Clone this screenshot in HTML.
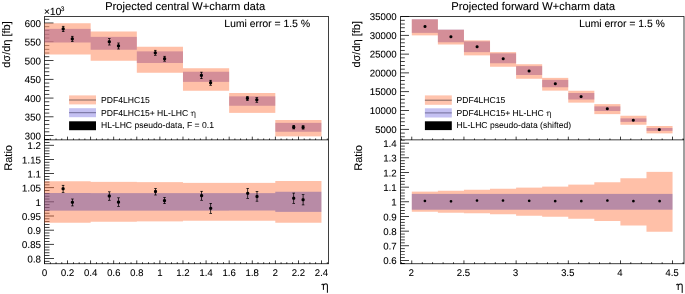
<!DOCTYPE html>
<html><head><meta charset="utf-8"><style>
html,body{margin:0;padding:0;background:#fff;overflow:hidden;width:685px;height:294px}
#wrap{position:absolute;left:0;top:0;width:1370px;height:588px;transform:scale(0.5);transform-origin:0 0;will-change:transform}
svg{display:block;text-rendering:geometricPrecision}
</style></head><body>
<div id="wrap">
<svg width="1370" height="588" viewBox="0 0 685 294" font-family='"Liberation Sans", sans-serif'>
<rect width="685" height="294" fill="#fff"/>
<path d="M44.5,16.5H328.5V263.7H44.5Z" fill="none" stroke="#000" stroke-width="0.75"/>
<line x1="44.50" y1="139.85" x2="328.50" y2="139.85" stroke="#000" stroke-width="0.75"/>
<path d="M400.5,16.5H684.0V263.7H400.5Z" fill="none" stroke="#000" stroke-width="0.75"/>
<line x1="400.50" y1="139.85" x2="684.00" y2="139.85" stroke="#000" stroke-width="0.75"/>
<line x1="44.50" y1="139.34" x2="49.30" y2="139.34" stroke="#000" stroke-width="0.75"/>
<line x1="44.50" y1="135.59" x2="53.50" y2="135.59" stroke="#000" stroke-width="0.75"/>
<line x1="44.50" y1="131.84" x2="49.30" y2="131.84" stroke="#000" stroke-width="0.75"/>
<line x1="44.50" y1="128.08" x2="49.30" y2="128.08" stroke="#000" stroke-width="0.75"/>
<line x1="44.50" y1="124.33" x2="49.30" y2="124.33" stroke="#000" stroke-width="0.75"/>
<line x1="44.50" y1="120.58" x2="49.30" y2="120.58" stroke="#000" stroke-width="0.75"/>
<line x1="44.50" y1="116.83" x2="53.50" y2="116.83" stroke="#000" stroke-width="0.75"/>
<line x1="44.50" y1="113.07" x2="49.30" y2="113.07" stroke="#000" stroke-width="0.75"/>
<line x1="44.50" y1="109.32" x2="49.30" y2="109.32" stroke="#000" stroke-width="0.75"/>
<line x1="44.50" y1="105.57" x2="49.30" y2="105.57" stroke="#000" stroke-width="0.75"/>
<line x1="44.50" y1="101.81" x2="49.30" y2="101.81" stroke="#000" stroke-width="0.75"/>
<line x1="44.50" y1="98.06" x2="53.50" y2="98.06" stroke="#000" stroke-width="0.75"/>
<line x1="44.50" y1="94.31" x2="49.30" y2="94.31" stroke="#000" stroke-width="0.75"/>
<line x1="44.50" y1="90.55" x2="49.30" y2="90.55" stroke="#000" stroke-width="0.75"/>
<line x1="44.50" y1="86.80" x2="49.30" y2="86.80" stroke="#000" stroke-width="0.75"/>
<line x1="44.50" y1="83.05" x2="49.30" y2="83.05" stroke="#000" stroke-width="0.75"/>
<line x1="44.50" y1="79.30" x2="53.50" y2="79.30" stroke="#000" stroke-width="0.75"/>
<line x1="44.50" y1="75.54" x2="49.30" y2="75.54" stroke="#000" stroke-width="0.75"/>
<line x1="44.50" y1="71.79" x2="49.30" y2="71.79" stroke="#000" stroke-width="0.75"/>
<line x1="44.50" y1="68.04" x2="49.30" y2="68.04" stroke="#000" stroke-width="0.75"/>
<line x1="44.50" y1="64.28" x2="49.30" y2="64.28" stroke="#000" stroke-width="0.75"/>
<line x1="44.50" y1="60.53" x2="53.50" y2="60.53" stroke="#000" stroke-width="0.75"/>
<line x1="44.50" y1="56.78" x2="49.30" y2="56.78" stroke="#000" stroke-width="0.75"/>
<line x1="44.50" y1="53.02" x2="49.30" y2="53.02" stroke="#000" stroke-width="0.75"/>
<line x1="44.50" y1="49.27" x2="49.30" y2="49.27" stroke="#000" stroke-width="0.75"/>
<line x1="44.50" y1="45.52" x2="49.30" y2="45.52" stroke="#000" stroke-width="0.75"/>
<line x1="44.50" y1="41.77" x2="53.50" y2="41.77" stroke="#000" stroke-width="0.75"/>
<line x1="44.50" y1="38.01" x2="49.30" y2="38.01" stroke="#000" stroke-width="0.75"/>
<line x1="44.50" y1="34.26" x2="49.30" y2="34.26" stroke="#000" stroke-width="0.75"/>
<line x1="44.50" y1="30.51" x2="49.30" y2="30.51" stroke="#000" stroke-width="0.75"/>
<line x1="44.50" y1="26.75" x2="49.30" y2="26.75" stroke="#000" stroke-width="0.75"/>
<line x1="44.50" y1="23.00" x2="53.50" y2="23.00" stroke="#000" stroke-width="0.75"/>
<line x1="44.50" y1="19.25" x2="49.30" y2="19.25" stroke="#000" stroke-width="0.75"/>
<line x1="44.50" y1="261.28" x2="49.50" y2="261.28" stroke="#000" stroke-width="0.75"/>
<line x1="44.50" y1="258.45" x2="54.00" y2="258.45" stroke="#000" stroke-width="0.75"/>
<line x1="44.50" y1="255.62" x2="49.50" y2="255.62" stroke="#000" stroke-width="0.75"/>
<line x1="44.50" y1="252.79" x2="49.50" y2="252.79" stroke="#000" stroke-width="0.75"/>
<line x1="44.50" y1="249.96" x2="49.50" y2="249.96" stroke="#000" stroke-width="0.75"/>
<line x1="44.50" y1="247.13" x2="49.50" y2="247.13" stroke="#000" stroke-width="0.75"/>
<line x1="44.50" y1="244.30" x2="54.00" y2="244.30" stroke="#000" stroke-width="0.75"/>
<line x1="44.50" y1="241.47" x2="49.50" y2="241.47" stroke="#000" stroke-width="0.75"/>
<line x1="44.50" y1="238.64" x2="49.50" y2="238.64" stroke="#000" stroke-width="0.75"/>
<line x1="44.50" y1="235.81" x2="49.50" y2="235.81" stroke="#000" stroke-width="0.75"/>
<line x1="44.50" y1="232.98" x2="49.50" y2="232.98" stroke="#000" stroke-width="0.75"/>
<line x1="44.50" y1="230.15" x2="54.00" y2="230.15" stroke="#000" stroke-width="0.75"/>
<line x1="44.50" y1="227.32" x2="49.50" y2="227.32" stroke="#000" stroke-width="0.75"/>
<line x1="44.50" y1="224.49" x2="49.50" y2="224.49" stroke="#000" stroke-width="0.75"/>
<line x1="44.50" y1="221.66" x2="49.50" y2="221.66" stroke="#000" stroke-width="0.75"/>
<line x1="44.50" y1="218.83" x2="49.50" y2="218.83" stroke="#000" stroke-width="0.75"/>
<line x1="44.50" y1="216.00" x2="54.00" y2="216.00" stroke="#000" stroke-width="0.75"/>
<line x1="44.50" y1="213.17" x2="49.50" y2="213.17" stroke="#000" stroke-width="0.75"/>
<line x1="44.50" y1="210.34" x2="49.50" y2="210.34" stroke="#000" stroke-width="0.75"/>
<line x1="44.50" y1="207.51" x2="49.50" y2="207.51" stroke="#000" stroke-width="0.75"/>
<line x1="44.50" y1="204.68" x2="49.50" y2="204.68" stroke="#000" stroke-width="0.75"/>
<line x1="44.50" y1="201.85" x2="54.00" y2="201.85" stroke="#000" stroke-width="0.75"/>
<line x1="44.50" y1="199.02" x2="49.50" y2="199.02" stroke="#000" stroke-width="0.75"/>
<line x1="44.50" y1="196.19" x2="49.50" y2="196.19" stroke="#000" stroke-width="0.75"/>
<line x1="44.50" y1="193.36" x2="49.50" y2="193.36" stroke="#000" stroke-width="0.75"/>
<line x1="44.50" y1="190.53" x2="49.50" y2="190.53" stroke="#000" stroke-width="0.75"/>
<line x1="44.50" y1="187.70" x2="54.00" y2="187.70" stroke="#000" stroke-width="0.75"/>
<line x1="44.50" y1="184.87" x2="49.50" y2="184.87" stroke="#000" stroke-width="0.75"/>
<line x1="44.50" y1="182.04" x2="49.50" y2="182.04" stroke="#000" stroke-width="0.75"/>
<line x1="44.50" y1="179.21" x2="49.50" y2="179.21" stroke="#000" stroke-width="0.75"/>
<line x1="44.50" y1="176.38" x2="49.50" y2="176.38" stroke="#000" stroke-width="0.75"/>
<line x1="44.50" y1="173.55" x2="54.00" y2="173.55" stroke="#000" stroke-width="0.75"/>
<line x1="44.50" y1="170.72" x2="49.50" y2="170.72" stroke="#000" stroke-width="0.75"/>
<line x1="44.50" y1="167.89" x2="49.50" y2="167.89" stroke="#000" stroke-width="0.75"/>
<line x1="44.50" y1="165.06" x2="49.50" y2="165.06" stroke="#000" stroke-width="0.75"/>
<line x1="44.50" y1="162.23" x2="49.50" y2="162.23" stroke="#000" stroke-width="0.75"/>
<line x1="44.50" y1="159.40" x2="54.00" y2="159.40" stroke="#000" stroke-width="0.75"/>
<line x1="44.50" y1="156.57" x2="49.50" y2="156.57" stroke="#000" stroke-width="0.75"/>
<line x1="44.50" y1="153.74" x2="49.50" y2="153.74" stroke="#000" stroke-width="0.75"/>
<line x1="44.50" y1="150.91" x2="49.50" y2="150.91" stroke="#000" stroke-width="0.75"/>
<line x1="44.50" y1="148.08" x2="49.50" y2="148.08" stroke="#000" stroke-width="0.75"/>
<line x1="44.50" y1="145.25" x2="54.00" y2="145.25" stroke="#000" stroke-width="0.75"/>
<line x1="44.50" y1="142.42" x2="49.50" y2="142.42" stroke="#000" stroke-width="0.75"/>
<line x1="44.50" y1="139.85" x2="44.50" y2="136.65" stroke="#000" stroke-width="0.75"/>
<line x1="50.27" y1="139.85" x2="50.27" y2="138.45" stroke="#000" stroke-width="0.75"/>
<line x1="56.04" y1="139.85" x2="56.04" y2="138.45" stroke="#000" stroke-width="0.75"/>
<line x1="61.81" y1="139.85" x2="61.81" y2="138.45" stroke="#000" stroke-width="0.75"/>
<line x1="67.58" y1="139.85" x2="67.58" y2="136.65" stroke="#000" stroke-width="0.75"/>
<line x1="73.35" y1="139.85" x2="73.35" y2="138.45" stroke="#000" stroke-width="0.75"/>
<line x1="79.12" y1="139.85" x2="79.12" y2="138.45" stroke="#000" stroke-width="0.75"/>
<line x1="84.89" y1="139.85" x2="84.89" y2="138.45" stroke="#000" stroke-width="0.75"/>
<line x1="90.66" y1="139.85" x2="90.66" y2="136.65" stroke="#000" stroke-width="0.75"/>
<line x1="96.43" y1="139.85" x2="96.43" y2="138.45" stroke="#000" stroke-width="0.75"/>
<line x1="102.20" y1="139.85" x2="102.20" y2="138.45" stroke="#000" stroke-width="0.75"/>
<line x1="107.97" y1="139.85" x2="107.97" y2="138.45" stroke="#000" stroke-width="0.75"/>
<line x1="113.74" y1="139.85" x2="113.74" y2="136.65" stroke="#000" stroke-width="0.75"/>
<line x1="119.51" y1="139.85" x2="119.51" y2="138.45" stroke="#000" stroke-width="0.75"/>
<line x1="125.28" y1="139.85" x2="125.28" y2="138.45" stroke="#000" stroke-width="0.75"/>
<line x1="131.05" y1="139.85" x2="131.05" y2="138.45" stroke="#000" stroke-width="0.75"/>
<line x1="136.82" y1="139.85" x2="136.82" y2="136.65" stroke="#000" stroke-width="0.75"/>
<line x1="142.59" y1="139.85" x2="142.59" y2="138.45" stroke="#000" stroke-width="0.75"/>
<line x1="148.36" y1="139.85" x2="148.36" y2="138.45" stroke="#000" stroke-width="0.75"/>
<line x1="154.13" y1="139.85" x2="154.13" y2="138.45" stroke="#000" stroke-width="0.75"/>
<line x1="159.90" y1="139.85" x2="159.90" y2="136.65" stroke="#000" stroke-width="0.75"/>
<line x1="165.67" y1="139.85" x2="165.67" y2="138.45" stroke="#000" stroke-width="0.75"/>
<line x1="171.44" y1="139.85" x2="171.44" y2="138.45" stroke="#000" stroke-width="0.75"/>
<line x1="177.21" y1="139.85" x2="177.21" y2="138.45" stroke="#000" stroke-width="0.75"/>
<line x1="182.98" y1="139.85" x2="182.98" y2="136.65" stroke="#000" stroke-width="0.75"/>
<line x1="188.75" y1="139.85" x2="188.75" y2="138.45" stroke="#000" stroke-width="0.75"/>
<line x1="194.52" y1="139.85" x2="194.52" y2="138.45" stroke="#000" stroke-width="0.75"/>
<line x1="200.29" y1="139.85" x2="200.29" y2="138.45" stroke="#000" stroke-width="0.75"/>
<line x1="206.06" y1="139.85" x2="206.06" y2="136.65" stroke="#000" stroke-width="0.75"/>
<line x1="211.83" y1="139.85" x2="211.83" y2="138.45" stroke="#000" stroke-width="0.75"/>
<line x1="217.60" y1="139.85" x2="217.60" y2="138.45" stroke="#000" stroke-width="0.75"/>
<line x1="223.37" y1="139.85" x2="223.37" y2="138.45" stroke="#000" stroke-width="0.75"/>
<line x1="229.14" y1="139.85" x2="229.14" y2="136.65" stroke="#000" stroke-width="0.75"/>
<line x1="234.91" y1="139.85" x2="234.91" y2="138.45" stroke="#000" stroke-width="0.75"/>
<line x1="240.68" y1="139.85" x2="240.68" y2="138.45" stroke="#000" stroke-width="0.75"/>
<line x1="246.45" y1="139.85" x2="246.45" y2="138.45" stroke="#000" stroke-width="0.75"/>
<line x1="252.22" y1="139.85" x2="252.22" y2="136.65" stroke="#000" stroke-width="0.75"/>
<line x1="257.99" y1="139.85" x2="257.99" y2="138.45" stroke="#000" stroke-width="0.75"/>
<line x1="263.76" y1="139.85" x2="263.76" y2="138.45" stroke="#000" stroke-width="0.75"/>
<line x1="269.53" y1="139.85" x2="269.53" y2="138.45" stroke="#000" stroke-width="0.75"/>
<line x1="275.30" y1="139.85" x2="275.30" y2="136.65" stroke="#000" stroke-width="0.75"/>
<line x1="281.07" y1="139.85" x2="281.07" y2="138.45" stroke="#000" stroke-width="0.75"/>
<line x1="286.84" y1="139.85" x2="286.84" y2="138.45" stroke="#000" stroke-width="0.75"/>
<line x1="292.61" y1="139.85" x2="292.61" y2="138.45" stroke="#000" stroke-width="0.75"/>
<line x1="298.38" y1="139.85" x2="298.38" y2="136.65" stroke="#000" stroke-width="0.75"/>
<line x1="304.15" y1="139.85" x2="304.15" y2="138.45" stroke="#000" stroke-width="0.75"/>
<line x1="309.92" y1="139.85" x2="309.92" y2="138.45" stroke="#000" stroke-width="0.75"/>
<line x1="315.69" y1="139.85" x2="315.69" y2="138.45" stroke="#000" stroke-width="0.75"/>
<line x1="321.46" y1="139.85" x2="321.46" y2="136.65" stroke="#000" stroke-width="0.75"/>
<line x1="327.23" y1="139.85" x2="327.23" y2="138.45" stroke="#000" stroke-width="0.75"/>
<line x1="44.50" y1="263.70" x2="44.50" y2="260.40" stroke="#000" stroke-width="0.75"/>
<line x1="50.27" y1="263.70" x2="50.27" y2="262.20" stroke="#000" stroke-width="0.75"/>
<line x1="56.04" y1="263.70" x2="56.04" y2="262.20" stroke="#000" stroke-width="0.75"/>
<line x1="61.81" y1="263.70" x2="61.81" y2="262.20" stroke="#000" stroke-width="0.75"/>
<line x1="67.58" y1="263.70" x2="67.58" y2="260.40" stroke="#000" stroke-width="0.75"/>
<line x1="73.35" y1="263.70" x2="73.35" y2="262.20" stroke="#000" stroke-width="0.75"/>
<line x1="79.12" y1="263.70" x2="79.12" y2="262.20" stroke="#000" stroke-width="0.75"/>
<line x1="84.89" y1="263.70" x2="84.89" y2="262.20" stroke="#000" stroke-width="0.75"/>
<line x1="90.66" y1="263.70" x2="90.66" y2="260.40" stroke="#000" stroke-width="0.75"/>
<line x1="96.43" y1="263.70" x2="96.43" y2="262.20" stroke="#000" stroke-width="0.75"/>
<line x1="102.20" y1="263.70" x2="102.20" y2="262.20" stroke="#000" stroke-width="0.75"/>
<line x1="107.97" y1="263.70" x2="107.97" y2="262.20" stroke="#000" stroke-width="0.75"/>
<line x1="113.74" y1="263.70" x2="113.74" y2="260.40" stroke="#000" stroke-width="0.75"/>
<line x1="119.51" y1="263.70" x2="119.51" y2="262.20" stroke="#000" stroke-width="0.75"/>
<line x1="125.28" y1="263.70" x2="125.28" y2="262.20" stroke="#000" stroke-width="0.75"/>
<line x1="131.05" y1="263.70" x2="131.05" y2="262.20" stroke="#000" stroke-width="0.75"/>
<line x1="136.82" y1="263.70" x2="136.82" y2="260.40" stroke="#000" stroke-width="0.75"/>
<line x1="142.59" y1="263.70" x2="142.59" y2="262.20" stroke="#000" stroke-width="0.75"/>
<line x1="148.36" y1="263.70" x2="148.36" y2="262.20" stroke="#000" stroke-width="0.75"/>
<line x1="154.13" y1="263.70" x2="154.13" y2="262.20" stroke="#000" stroke-width="0.75"/>
<line x1="159.90" y1="263.70" x2="159.90" y2="260.40" stroke="#000" stroke-width="0.75"/>
<line x1="165.67" y1="263.70" x2="165.67" y2="262.20" stroke="#000" stroke-width="0.75"/>
<line x1="171.44" y1="263.70" x2="171.44" y2="262.20" stroke="#000" stroke-width="0.75"/>
<line x1="177.21" y1="263.70" x2="177.21" y2="262.20" stroke="#000" stroke-width="0.75"/>
<line x1="182.98" y1="263.70" x2="182.98" y2="260.40" stroke="#000" stroke-width="0.75"/>
<line x1="188.75" y1="263.70" x2="188.75" y2="262.20" stroke="#000" stroke-width="0.75"/>
<line x1="194.52" y1="263.70" x2="194.52" y2="262.20" stroke="#000" stroke-width="0.75"/>
<line x1="200.29" y1="263.70" x2="200.29" y2="262.20" stroke="#000" stroke-width="0.75"/>
<line x1="206.06" y1="263.70" x2="206.06" y2="260.40" stroke="#000" stroke-width="0.75"/>
<line x1="211.83" y1="263.70" x2="211.83" y2="262.20" stroke="#000" stroke-width="0.75"/>
<line x1="217.60" y1="263.70" x2="217.60" y2="262.20" stroke="#000" stroke-width="0.75"/>
<line x1="223.37" y1="263.70" x2="223.37" y2="262.20" stroke="#000" stroke-width="0.75"/>
<line x1="229.14" y1="263.70" x2="229.14" y2="260.40" stroke="#000" stroke-width="0.75"/>
<line x1="234.91" y1="263.70" x2="234.91" y2="262.20" stroke="#000" stroke-width="0.75"/>
<line x1="240.68" y1="263.70" x2="240.68" y2="262.20" stroke="#000" stroke-width="0.75"/>
<line x1="246.45" y1="263.70" x2="246.45" y2="262.20" stroke="#000" stroke-width="0.75"/>
<line x1="252.22" y1="263.70" x2="252.22" y2="260.40" stroke="#000" stroke-width="0.75"/>
<line x1="257.99" y1="263.70" x2="257.99" y2="262.20" stroke="#000" stroke-width="0.75"/>
<line x1="263.76" y1="263.70" x2="263.76" y2="262.20" stroke="#000" stroke-width="0.75"/>
<line x1="269.53" y1="263.70" x2="269.53" y2="262.20" stroke="#000" stroke-width="0.75"/>
<line x1="275.30" y1="263.70" x2="275.30" y2="260.40" stroke="#000" stroke-width="0.75"/>
<line x1="281.07" y1="263.70" x2="281.07" y2="262.20" stroke="#000" stroke-width="0.75"/>
<line x1="286.84" y1="263.70" x2="286.84" y2="262.20" stroke="#000" stroke-width="0.75"/>
<line x1="292.61" y1="263.70" x2="292.61" y2="262.20" stroke="#000" stroke-width="0.75"/>
<line x1="298.38" y1="263.70" x2="298.38" y2="260.40" stroke="#000" stroke-width="0.75"/>
<line x1="304.15" y1="263.70" x2="304.15" y2="262.20" stroke="#000" stroke-width="0.75"/>
<line x1="309.92" y1="263.70" x2="309.92" y2="262.20" stroke="#000" stroke-width="0.75"/>
<line x1="315.69" y1="263.70" x2="315.69" y2="262.20" stroke="#000" stroke-width="0.75"/>
<line x1="321.46" y1="263.70" x2="321.46" y2="260.40" stroke="#000" stroke-width="0.75"/>
<line x1="327.23" y1="263.70" x2="327.23" y2="262.20" stroke="#000" stroke-width="0.75"/>
<path d="M44.50,23.20H90.66V54.50H44.50ZM90.66,31.50H136.82V60.70H90.66ZM136.82,46.80H182.98V72.70H136.82ZM182.98,68.30H229.14V90.70H182.98ZM229.14,93.00H275.30V112.90H229.14ZM275.30,120.00H321.46V136.40H275.30Z" fill="rgb(255,150,110)" fill-opacity="0.6" stroke="none"/>
<path d="M44.50,28.90H90.66V42.50H44.50ZM90.66,36.90H136.82V49.70H90.66ZM136.82,51.40H182.98V63.00H136.82ZM182.98,71.70H229.14V81.90H182.98ZM229.14,96.40H275.30V105.70H229.14ZM275.30,122.90H321.46V131.70H275.30Z" fill="rgb(183,109,141)" fill-opacity="0.6" stroke="none"/>
<line x1="63.20" y1="26.30" x2="63.20" y2="31.60" stroke="#000" stroke-width="0.75"/>
<line x1="61.90" y1="26.30" x2="64.50" y2="26.30" stroke="#000" stroke-width="0.75"/>
<line x1="61.90" y1="31.60" x2="64.50" y2="31.60" stroke="#000" stroke-width="0.75"/>
<circle cx="63.20" cy="28.90" r="1.6" fill="#000"/>
<line x1="72.30" y1="36.30" x2="72.30" y2="41.50" stroke="#000" stroke-width="0.75"/>
<line x1="71.00" y1="36.30" x2="73.60" y2="36.30" stroke="#000" stroke-width="0.75"/>
<line x1="71.00" y1="41.50" x2="73.60" y2="41.50" stroke="#000" stroke-width="0.75"/>
<circle cx="72.30" cy="38.90" r="1.6" fill="#000"/>
<line x1="109.30" y1="38.50" x2="109.30" y2="45.00" stroke="#000" stroke-width="0.75"/>
<line x1="108.00" y1="38.50" x2="110.60" y2="38.50" stroke="#000" stroke-width="0.75"/>
<line x1="108.00" y1="45.00" x2="110.60" y2="45.00" stroke="#000" stroke-width="0.75"/>
<circle cx="109.30" cy="41.70" r="1.6" fill="#000"/>
<line x1="118.50" y1="43.00" x2="118.50" y2="49.00" stroke="#000" stroke-width="0.75"/>
<line x1="117.20" y1="43.00" x2="119.80" y2="43.00" stroke="#000" stroke-width="0.75"/>
<line x1="117.20" y1="49.00" x2="119.80" y2="49.00" stroke="#000" stroke-width="0.75"/>
<circle cx="118.50" cy="45.90" r="1.6" fill="#000"/>
<line x1="155.30" y1="50.30" x2="155.30" y2="55.30" stroke="#000" stroke-width="0.75"/>
<line x1="154.00" y1="50.30" x2="156.60" y2="50.30" stroke="#000" stroke-width="0.75"/>
<line x1="154.00" y1="55.30" x2="156.60" y2="55.30" stroke="#000" stroke-width="0.75"/>
<circle cx="155.30" cy="52.80" r="1.6" fill="#000"/>
<line x1="164.60" y1="56.30" x2="164.60" y2="61.20" stroke="#000" stroke-width="0.75"/>
<line x1="163.30" y1="56.30" x2="165.90" y2="56.30" stroke="#000" stroke-width="0.75"/>
<line x1="163.30" y1="61.20" x2="165.90" y2="61.20" stroke="#000" stroke-width="0.75"/>
<circle cx="164.60" cy="58.70" r="1.6" fill="#000"/>
<line x1="201.40" y1="72.20" x2="201.40" y2="78.60" stroke="#000" stroke-width="0.75"/>
<line x1="200.10" y1="72.20" x2="202.70" y2="72.20" stroke="#000" stroke-width="0.75"/>
<line x1="200.10" y1="78.60" x2="202.70" y2="78.60" stroke="#000" stroke-width="0.75"/>
<circle cx="201.40" cy="75.40" r="1.6" fill="#000"/>
<line x1="210.60" y1="80.30" x2="210.60" y2="85.30" stroke="#000" stroke-width="0.75"/>
<line x1="209.30" y1="80.30" x2="211.90" y2="80.30" stroke="#000" stroke-width="0.75"/>
<line x1="209.30" y1="85.30" x2="211.90" y2="85.30" stroke="#000" stroke-width="0.75"/>
<circle cx="210.60" cy="82.70" r="1.6" fill="#000"/>
<line x1="247.40" y1="96.50" x2="247.40" y2="100.50" stroke="#000" stroke-width="0.75"/>
<line x1="246.10" y1="96.50" x2="248.70" y2="96.50" stroke="#000" stroke-width="0.75"/>
<line x1="246.10" y1="100.50" x2="248.70" y2="100.50" stroke="#000" stroke-width="0.75"/>
<circle cx="247.40" cy="98.40" r="1.6" fill="#000"/>
<line x1="256.80" y1="97.60" x2="256.80" y2="102.30" stroke="#000" stroke-width="0.75"/>
<line x1="255.50" y1="97.60" x2="258.10" y2="97.60" stroke="#000" stroke-width="0.75"/>
<line x1="255.50" y1="102.30" x2="258.10" y2="102.30" stroke="#000" stroke-width="0.75"/>
<circle cx="256.80" cy="99.80" r="1.6" fill="#000"/>
<line x1="293.70" y1="125.40" x2="293.70" y2="128.90" stroke="#000" stroke-width="0.75"/>
<line x1="292.40" y1="125.40" x2="295.00" y2="125.40" stroke="#000" stroke-width="0.75"/>
<line x1="292.40" y1="128.90" x2="295.00" y2="128.90" stroke="#000" stroke-width="0.75"/>
<circle cx="293.70" cy="127.10" r="1.6" fill="#000"/>
<line x1="303.10" y1="125.60" x2="303.10" y2="129.10" stroke="#000" stroke-width="0.75"/>
<line x1="301.80" y1="125.60" x2="304.40" y2="125.60" stroke="#000" stroke-width="0.75"/>
<line x1="301.80" y1="129.10" x2="304.40" y2="129.10" stroke="#000" stroke-width="0.75"/>
<circle cx="303.10" cy="127.40" r="1.6" fill="#000"/>
<path d="M44.50,181.20H90.66V222.70H44.50ZM90.66,181.90H136.82V221.80H90.66ZM136.82,182.10H182.98V221.40H136.82ZM182.98,182.90H229.14V220.80H182.98ZM229.14,182.90H275.30V220.80H229.14ZM275.30,181.00H321.46V222.70H275.30Z" fill="rgb(255,115,62)" fill-opacity="0.45" stroke="none"/>
<path d="M44.50,193.00H90.66V210.60H44.50ZM90.66,193.10H136.82V210.60H90.66ZM136.82,193.10H182.98V210.60H136.82ZM182.98,193.10H229.14V210.60H182.98ZM229.14,193.10H275.30V210.50H229.14ZM275.30,191.80H321.46V211.90H275.30Z" fill="rgb(97,76,164)" fill-opacity="0.45" stroke="none"/>
<line x1="63.10" y1="185.30" x2="63.10" y2="192.40" stroke="#000" stroke-width="0.75"/>
<line x1="61.80" y1="185.30" x2="64.40" y2="185.30" stroke="#000" stroke-width="0.75"/>
<line x1="61.80" y1="192.40" x2="64.40" y2="192.40" stroke="#000" stroke-width="0.75"/>
<circle cx="63.10" cy="188.70" r="1.6" fill="#000"/>
<line x1="72.40" y1="199.00" x2="72.40" y2="205.90" stroke="#000" stroke-width="0.75"/>
<line x1="71.10" y1="199.00" x2="73.70" y2="199.00" stroke="#000" stroke-width="0.75"/>
<line x1="71.10" y1="205.90" x2="73.70" y2="205.90" stroke="#000" stroke-width="0.75"/>
<circle cx="72.40" cy="202.30" r="1.6" fill="#000"/>
<line x1="109.30" y1="191.80" x2="109.30" y2="200.30" stroke="#000" stroke-width="0.75"/>
<line x1="108.00" y1="191.80" x2="110.60" y2="191.80" stroke="#000" stroke-width="0.75"/>
<line x1="108.00" y1="200.30" x2="110.60" y2="200.30" stroke="#000" stroke-width="0.75"/>
<circle cx="109.30" cy="196.00" r="1.6" fill="#000"/>
<line x1="118.50" y1="197.80" x2="118.50" y2="206.40" stroke="#000" stroke-width="0.75"/>
<line x1="117.20" y1="197.80" x2="119.80" y2="197.80" stroke="#000" stroke-width="0.75"/>
<line x1="117.20" y1="206.40" x2="119.80" y2="206.40" stroke="#000" stroke-width="0.75"/>
<circle cx="118.50" cy="202.10" r="1.6" fill="#000"/>
<line x1="155.50" y1="188.50" x2="155.50" y2="195.00" stroke="#000" stroke-width="0.75"/>
<line x1="154.20" y1="188.50" x2="156.80" y2="188.50" stroke="#000" stroke-width="0.75"/>
<line x1="154.20" y1="195.00" x2="156.80" y2="195.00" stroke="#000" stroke-width="0.75"/>
<circle cx="155.50" cy="191.50" r="1.6" fill="#000"/>
<line x1="164.50" y1="197.50" x2="164.50" y2="203.60" stroke="#000" stroke-width="0.75"/>
<line x1="163.20" y1="197.50" x2="165.80" y2="197.50" stroke="#000" stroke-width="0.75"/>
<line x1="163.20" y1="203.60" x2="165.80" y2="203.60" stroke="#000" stroke-width="0.75"/>
<circle cx="164.50" cy="200.60" r="1.6" fill="#000"/>
<line x1="201.60" y1="191.30" x2="201.60" y2="200.30" stroke="#000" stroke-width="0.75"/>
<line x1="200.30" y1="191.30" x2="202.90" y2="191.30" stroke="#000" stroke-width="0.75"/>
<line x1="200.30" y1="200.30" x2="202.90" y2="200.30" stroke="#000" stroke-width="0.75"/>
<circle cx="201.60" cy="195.60" r="1.6" fill="#000"/>
<line x1="210.70" y1="203.40" x2="210.70" y2="213.40" stroke="#000" stroke-width="0.75"/>
<line x1="209.40" y1="203.40" x2="212.00" y2="203.40" stroke="#000" stroke-width="0.75"/>
<line x1="209.40" y1="213.40" x2="212.00" y2="213.40" stroke="#000" stroke-width="0.75"/>
<circle cx="210.70" cy="208.30" r="1.6" fill="#000"/>
<line x1="247.70" y1="188.50" x2="247.70" y2="198.40" stroke="#000" stroke-width="0.75"/>
<line x1="246.40" y1="188.50" x2="249.00" y2="188.50" stroke="#000" stroke-width="0.75"/>
<line x1="246.40" y1="198.40" x2="249.00" y2="198.40" stroke="#000" stroke-width="0.75"/>
<circle cx="247.70" cy="193.30" r="1.6" fill="#000"/>
<line x1="257.00" y1="191.50" x2="257.00" y2="201.20" stroke="#000" stroke-width="0.75"/>
<line x1="255.70" y1="191.50" x2="258.30" y2="191.50" stroke="#000" stroke-width="0.75"/>
<line x1="255.70" y1="201.20" x2="258.30" y2="201.20" stroke="#000" stroke-width="0.75"/>
<circle cx="257.00" cy="196.50" r="1.6" fill="#000"/>
<line x1="293.70" y1="193.10" x2="293.70" y2="203.40" stroke="#000" stroke-width="0.75"/>
<line x1="292.40" y1="193.10" x2="295.00" y2="193.10" stroke="#000" stroke-width="0.75"/>
<line x1="292.40" y1="203.40" x2="295.00" y2="203.40" stroke="#000" stroke-width="0.75"/>
<circle cx="293.70" cy="198.20" r="1.6" fill="#000"/>
<line x1="303.10" y1="194.60" x2="303.10" y2="204.90" stroke="#000" stroke-width="0.75"/>
<line x1="301.80" y1="194.60" x2="304.40" y2="194.60" stroke="#000" stroke-width="0.75"/>
<line x1="301.80" y1="204.90" x2="304.40" y2="204.90" stroke="#000" stroke-width="0.75"/>
<circle cx="303.10" cy="199.70" r="1.6" fill="#000"/>
<line x1="400.50" y1="136.82" x2="404.80" y2="136.82" stroke="#000" stroke-width="0.75"/>
<line x1="400.50" y1="133.06" x2="404.80" y2="133.06" stroke="#000" stroke-width="0.75"/>
<line x1="400.50" y1="129.30" x2="409.00" y2="129.30" stroke="#000" stroke-width="0.75"/>
<line x1="400.50" y1="125.54" x2="404.80" y2="125.54" stroke="#000" stroke-width="0.75"/>
<line x1="400.50" y1="121.78" x2="404.80" y2="121.78" stroke="#000" stroke-width="0.75"/>
<line x1="400.50" y1="118.02" x2="404.80" y2="118.02" stroke="#000" stroke-width="0.75"/>
<line x1="400.50" y1="114.26" x2="404.80" y2="114.26" stroke="#000" stroke-width="0.75"/>
<line x1="400.50" y1="110.50" x2="409.00" y2="110.50" stroke="#000" stroke-width="0.75"/>
<line x1="400.50" y1="106.74" x2="404.80" y2="106.74" stroke="#000" stroke-width="0.75"/>
<line x1="400.50" y1="102.98" x2="404.80" y2="102.98" stroke="#000" stroke-width="0.75"/>
<line x1="400.50" y1="99.22" x2="404.80" y2="99.22" stroke="#000" stroke-width="0.75"/>
<line x1="400.50" y1="95.46" x2="404.80" y2="95.46" stroke="#000" stroke-width="0.75"/>
<line x1="400.50" y1="91.70" x2="409.00" y2="91.70" stroke="#000" stroke-width="0.75"/>
<line x1="400.50" y1="87.94" x2="404.80" y2="87.94" stroke="#000" stroke-width="0.75"/>
<line x1="400.50" y1="84.18" x2="404.80" y2="84.18" stroke="#000" stroke-width="0.75"/>
<line x1="400.50" y1="80.42" x2="404.80" y2="80.42" stroke="#000" stroke-width="0.75"/>
<line x1="400.50" y1="76.66" x2="404.80" y2="76.66" stroke="#000" stroke-width="0.75"/>
<line x1="400.50" y1="72.90" x2="409.00" y2="72.90" stroke="#000" stroke-width="0.75"/>
<line x1="400.50" y1="69.14" x2="404.80" y2="69.14" stroke="#000" stroke-width="0.75"/>
<line x1="400.50" y1="65.38" x2="404.80" y2="65.38" stroke="#000" stroke-width="0.75"/>
<line x1="400.50" y1="61.62" x2="404.80" y2="61.62" stroke="#000" stroke-width="0.75"/>
<line x1="400.50" y1="57.86" x2="404.80" y2="57.86" stroke="#000" stroke-width="0.75"/>
<line x1="400.50" y1="54.10" x2="409.00" y2="54.10" stroke="#000" stroke-width="0.75"/>
<line x1="400.50" y1="50.34" x2="404.80" y2="50.34" stroke="#000" stroke-width="0.75"/>
<line x1="400.50" y1="46.58" x2="404.80" y2="46.58" stroke="#000" stroke-width="0.75"/>
<line x1="400.50" y1="42.82" x2="404.80" y2="42.82" stroke="#000" stroke-width="0.75"/>
<line x1="400.50" y1="39.06" x2="404.80" y2="39.06" stroke="#000" stroke-width="0.75"/>
<line x1="400.50" y1="35.30" x2="409.00" y2="35.30" stroke="#000" stroke-width="0.75"/>
<line x1="400.50" y1="31.54" x2="404.80" y2="31.54" stroke="#000" stroke-width="0.75"/>
<line x1="400.50" y1="27.78" x2="404.80" y2="27.78" stroke="#000" stroke-width="0.75"/>
<line x1="400.50" y1="24.02" x2="404.80" y2="24.02" stroke="#000" stroke-width="0.75"/>
<line x1="400.50" y1="20.26" x2="404.80" y2="20.26" stroke="#000" stroke-width="0.75"/>
<line x1="400.50" y1="16.50" x2="409.00" y2="16.50" stroke="#000" stroke-width="0.75"/>
<line x1="400.50" y1="263.37" x2="404.80" y2="263.37" stroke="#000" stroke-width="0.75"/>
<line x1="400.50" y1="260.44" x2="409.00" y2="260.44" stroke="#000" stroke-width="0.75"/>
<line x1="400.50" y1="257.51" x2="404.80" y2="257.51" stroke="#000" stroke-width="0.75"/>
<line x1="400.50" y1="254.58" x2="404.80" y2="254.58" stroke="#000" stroke-width="0.75"/>
<line x1="400.50" y1="251.64" x2="404.80" y2="251.64" stroke="#000" stroke-width="0.75"/>
<line x1="400.50" y1="248.71" x2="404.80" y2="248.71" stroke="#000" stroke-width="0.75"/>
<line x1="400.50" y1="245.78" x2="409.00" y2="245.78" stroke="#000" stroke-width="0.75"/>
<line x1="400.50" y1="242.85" x2="404.80" y2="242.85" stroke="#000" stroke-width="0.75"/>
<line x1="400.50" y1="239.92" x2="404.80" y2="239.92" stroke="#000" stroke-width="0.75"/>
<line x1="400.50" y1="236.98" x2="404.80" y2="236.98" stroke="#000" stroke-width="0.75"/>
<line x1="400.50" y1="234.05" x2="404.80" y2="234.05" stroke="#000" stroke-width="0.75"/>
<line x1="400.50" y1="231.12" x2="409.00" y2="231.12" stroke="#000" stroke-width="0.75"/>
<line x1="400.50" y1="228.19" x2="404.80" y2="228.19" stroke="#000" stroke-width="0.75"/>
<line x1="400.50" y1="225.26" x2="404.80" y2="225.26" stroke="#000" stroke-width="0.75"/>
<line x1="400.50" y1="222.32" x2="404.80" y2="222.32" stroke="#000" stroke-width="0.75"/>
<line x1="400.50" y1="219.39" x2="404.80" y2="219.39" stroke="#000" stroke-width="0.75"/>
<line x1="400.50" y1="216.46" x2="409.00" y2="216.46" stroke="#000" stroke-width="0.75"/>
<line x1="400.50" y1="213.53" x2="404.80" y2="213.53" stroke="#000" stroke-width="0.75"/>
<line x1="400.50" y1="210.60" x2="404.80" y2="210.60" stroke="#000" stroke-width="0.75"/>
<line x1="400.50" y1="207.66" x2="404.80" y2="207.66" stroke="#000" stroke-width="0.75"/>
<line x1="400.50" y1="204.73" x2="404.80" y2="204.73" stroke="#000" stroke-width="0.75"/>
<line x1="400.50" y1="201.80" x2="409.00" y2="201.80" stroke="#000" stroke-width="0.75"/>
<line x1="400.50" y1="198.87" x2="404.80" y2="198.87" stroke="#000" stroke-width="0.75"/>
<line x1="400.50" y1="195.94" x2="404.80" y2="195.94" stroke="#000" stroke-width="0.75"/>
<line x1="400.50" y1="193.00" x2="404.80" y2="193.00" stroke="#000" stroke-width="0.75"/>
<line x1="400.50" y1="190.07" x2="404.80" y2="190.07" stroke="#000" stroke-width="0.75"/>
<line x1="400.50" y1="187.14" x2="409.00" y2="187.14" stroke="#000" stroke-width="0.75"/>
<line x1="400.50" y1="184.21" x2="404.80" y2="184.21" stroke="#000" stroke-width="0.75"/>
<line x1="400.50" y1="181.28" x2="404.80" y2="181.28" stroke="#000" stroke-width="0.75"/>
<line x1="400.50" y1="178.34" x2="404.80" y2="178.34" stroke="#000" stroke-width="0.75"/>
<line x1="400.50" y1="175.41" x2="404.80" y2="175.41" stroke="#000" stroke-width="0.75"/>
<line x1="400.50" y1="172.48" x2="409.00" y2="172.48" stroke="#000" stroke-width="0.75"/>
<line x1="400.50" y1="169.55" x2="404.80" y2="169.55" stroke="#000" stroke-width="0.75"/>
<line x1="400.50" y1="166.62" x2="404.80" y2="166.62" stroke="#000" stroke-width="0.75"/>
<line x1="400.50" y1="163.68" x2="404.80" y2="163.68" stroke="#000" stroke-width="0.75"/>
<line x1="400.50" y1="160.75" x2="404.80" y2="160.75" stroke="#000" stroke-width="0.75"/>
<line x1="400.50" y1="157.82" x2="409.00" y2="157.82" stroke="#000" stroke-width="0.75"/>
<line x1="400.50" y1="154.89" x2="404.80" y2="154.89" stroke="#000" stroke-width="0.75"/>
<line x1="400.50" y1="151.96" x2="404.80" y2="151.96" stroke="#000" stroke-width="0.75"/>
<line x1="400.50" y1="149.02" x2="404.80" y2="149.02" stroke="#000" stroke-width="0.75"/>
<line x1="400.50" y1="146.09" x2="404.80" y2="146.09" stroke="#000" stroke-width="0.75"/>
<line x1="400.50" y1="143.16" x2="409.00" y2="143.16" stroke="#000" stroke-width="0.75"/>
<line x1="400.50" y1="140.23" x2="404.80" y2="140.23" stroke="#000" stroke-width="0.75"/>
<line x1="401.37" y1="139.85" x2="401.37" y2="138.45" stroke="#000" stroke-width="0.75"/>
<line x1="411.80" y1="139.85" x2="411.80" y2="136.65" stroke="#000" stroke-width="0.75"/>
<line x1="422.23" y1="139.85" x2="422.23" y2="138.45" stroke="#000" stroke-width="0.75"/>
<line x1="432.66" y1="139.85" x2="432.66" y2="138.45" stroke="#000" stroke-width="0.75"/>
<line x1="443.09" y1="139.85" x2="443.09" y2="138.45" stroke="#000" stroke-width="0.75"/>
<line x1="453.52" y1="139.85" x2="453.52" y2="138.45" stroke="#000" stroke-width="0.75"/>
<line x1="463.95" y1="139.85" x2="463.95" y2="136.65" stroke="#000" stroke-width="0.75"/>
<line x1="474.38" y1="139.85" x2="474.38" y2="138.45" stroke="#000" stroke-width="0.75"/>
<line x1="484.81" y1="139.85" x2="484.81" y2="138.45" stroke="#000" stroke-width="0.75"/>
<line x1="495.24" y1="139.85" x2="495.24" y2="138.45" stroke="#000" stroke-width="0.75"/>
<line x1="505.67" y1="139.85" x2="505.67" y2="138.45" stroke="#000" stroke-width="0.75"/>
<line x1="516.10" y1="139.85" x2="516.10" y2="136.65" stroke="#000" stroke-width="0.75"/>
<line x1="526.53" y1="139.85" x2="526.53" y2="138.45" stroke="#000" stroke-width="0.75"/>
<line x1="536.96" y1="139.85" x2="536.96" y2="138.45" stroke="#000" stroke-width="0.75"/>
<line x1="547.39" y1="139.85" x2="547.39" y2="138.45" stroke="#000" stroke-width="0.75"/>
<line x1="557.82" y1="139.85" x2="557.82" y2="138.45" stroke="#000" stroke-width="0.75"/>
<line x1="568.25" y1="139.85" x2="568.25" y2="136.65" stroke="#000" stroke-width="0.75"/>
<line x1="578.68" y1="139.85" x2="578.68" y2="138.45" stroke="#000" stroke-width="0.75"/>
<line x1="589.11" y1="139.85" x2="589.11" y2="138.45" stroke="#000" stroke-width="0.75"/>
<line x1="599.54" y1="139.85" x2="599.54" y2="138.45" stroke="#000" stroke-width="0.75"/>
<line x1="609.97" y1="139.85" x2="609.97" y2="138.45" stroke="#000" stroke-width="0.75"/>
<line x1="620.40" y1="139.85" x2="620.40" y2="136.65" stroke="#000" stroke-width="0.75"/>
<line x1="630.83" y1="139.85" x2="630.83" y2="138.45" stroke="#000" stroke-width="0.75"/>
<line x1="641.26" y1="139.85" x2="641.26" y2="138.45" stroke="#000" stroke-width="0.75"/>
<line x1="651.69" y1="139.85" x2="651.69" y2="138.45" stroke="#000" stroke-width="0.75"/>
<line x1="662.12" y1="139.85" x2="662.12" y2="138.45" stroke="#000" stroke-width="0.75"/>
<line x1="672.55" y1="139.85" x2="672.55" y2="136.65" stroke="#000" stroke-width="0.75"/>
<line x1="682.98" y1="139.85" x2="682.98" y2="138.45" stroke="#000" stroke-width="0.75"/>
<line x1="401.37" y1="263.70" x2="401.37" y2="262.20" stroke="#000" stroke-width="0.75"/>
<line x1="411.80" y1="263.70" x2="411.80" y2="260.40" stroke="#000" stroke-width="0.75"/>
<line x1="422.23" y1="263.70" x2="422.23" y2="262.20" stroke="#000" stroke-width="0.75"/>
<line x1="432.66" y1="263.70" x2="432.66" y2="262.20" stroke="#000" stroke-width="0.75"/>
<line x1="443.09" y1="263.70" x2="443.09" y2="262.20" stroke="#000" stroke-width="0.75"/>
<line x1="453.52" y1="263.70" x2="453.52" y2="262.20" stroke="#000" stroke-width="0.75"/>
<line x1="463.95" y1="263.70" x2="463.95" y2="260.40" stroke="#000" stroke-width="0.75"/>
<line x1="474.38" y1="263.70" x2="474.38" y2="262.20" stroke="#000" stroke-width="0.75"/>
<line x1="484.81" y1="263.70" x2="484.81" y2="262.20" stroke="#000" stroke-width="0.75"/>
<line x1="495.24" y1="263.70" x2="495.24" y2="262.20" stroke="#000" stroke-width="0.75"/>
<line x1="505.67" y1="263.70" x2="505.67" y2="262.20" stroke="#000" stroke-width="0.75"/>
<line x1="516.10" y1="263.70" x2="516.10" y2="260.40" stroke="#000" stroke-width="0.75"/>
<line x1="526.53" y1="263.70" x2="526.53" y2="262.20" stroke="#000" stroke-width="0.75"/>
<line x1="536.96" y1="263.70" x2="536.96" y2="262.20" stroke="#000" stroke-width="0.75"/>
<line x1="547.39" y1="263.70" x2="547.39" y2="262.20" stroke="#000" stroke-width="0.75"/>
<line x1="557.82" y1="263.70" x2="557.82" y2="262.20" stroke="#000" stroke-width="0.75"/>
<line x1="568.25" y1="263.70" x2="568.25" y2="260.40" stroke="#000" stroke-width="0.75"/>
<line x1="578.68" y1="263.70" x2="578.68" y2="262.20" stroke="#000" stroke-width="0.75"/>
<line x1="589.11" y1="263.70" x2="589.11" y2="262.20" stroke="#000" stroke-width="0.75"/>
<line x1="599.54" y1="263.70" x2="599.54" y2="262.20" stroke="#000" stroke-width="0.75"/>
<line x1="609.97" y1="263.70" x2="609.97" y2="262.20" stroke="#000" stroke-width="0.75"/>
<line x1="620.40" y1="263.70" x2="620.40" y2="260.40" stroke="#000" stroke-width="0.75"/>
<line x1="630.83" y1="263.70" x2="630.83" y2="262.20" stroke="#000" stroke-width="0.75"/>
<line x1="641.26" y1="263.70" x2="641.26" y2="262.20" stroke="#000" stroke-width="0.75"/>
<line x1="651.69" y1="263.70" x2="651.69" y2="262.20" stroke="#000" stroke-width="0.75"/>
<line x1="662.12" y1="263.70" x2="662.12" y2="262.20" stroke="#000" stroke-width="0.75"/>
<line x1="672.55" y1="263.70" x2="672.55" y2="260.40" stroke="#000" stroke-width="0.75"/>
<line x1="682.98" y1="263.70" x2="682.98" y2="262.20" stroke="#000" stroke-width="0.75"/>
<path d="M411.80,19.60H437.88V35.40H411.80ZM437.88,30.00H463.95V44.50H437.88ZM463.95,40.40H490.02V55.40H463.95ZM490.02,52.10H516.10V66.70H490.02ZM516.10,64.30H542.17V78.70H516.10ZM542.17,77.90H568.25V90.60H542.17ZM568.25,90.80H594.33V102.60H568.25ZM594.33,104.10H620.40V114.10H594.33ZM620.40,115.80H646.48V124.80H620.40ZM646.48,126.00H672.55V133.40H646.48Z" fill="rgb(255,150,110)" fill-opacity="0.6" stroke="none"/>
<path d="M411.80,19.10H437.88V32.90H411.80ZM437.88,29.50H463.95V42.20H437.88ZM463.95,41.40H490.02V52.10H463.95ZM490.02,53.40H516.10V63.30H490.02ZM516.10,66.10H542.17V75.00H516.10ZM542.17,79.90H568.25V87.20H542.17ZM568.25,93.00H594.33V99.50H568.25ZM594.33,106.40H620.40V111.00H594.33ZM620.40,118.40H646.48V121.90H620.40ZM646.48,128.00H672.55V130.90H646.48Z" fill="rgb(183,109,141)" fill-opacity="0.6" stroke="none"/>
<circle cx="425.00" cy="26.50" r="1.5" fill="#000"/>
<circle cx="450.90" cy="36.70" r="1.5" fill="#000"/>
<circle cx="477.10" cy="46.80" r="1.5" fill="#000"/>
<circle cx="503.20" cy="58.70" r="1.5" fill="#000"/>
<circle cx="529.10" cy="71.00" r="1.5" fill="#000"/>
<circle cx="555.30" cy="83.70" r="1.5" fill="#000"/>
<circle cx="581.10" cy="96.60" r="1.5" fill="#000"/>
<circle cx="607.30" cy="108.70" r="1.5" fill="#000"/>
<circle cx="633.30" cy="120.20" r="1.5" fill="#000"/>
<circle cx="659.30" cy="129.60" r="1.5" fill="#000"/>
<path d="M411.80,191.60H437.88V211.70H411.80ZM437.88,190.80H463.95V212.70H437.88ZM463.95,189.80H490.02V213.30H463.95ZM490.02,188.80H516.10V214.30H490.02ZM516.10,187.60H542.17V215.80H516.10ZM542.17,186.60H568.25V216.70H542.17ZM568.25,184.60H594.33V218.70H568.25ZM594.33,182.20H620.40V221.00H594.33ZM620.40,178.30H646.48V225.50H620.40ZM646.48,171.90H672.55V231.80H646.48Z" fill="rgb(255,115,62)" fill-opacity="0.45" stroke="none"/>
<rect x="411.80" y="193.90" width="260.75" height="15.80" fill="rgb(97,76,164)" fill-opacity="0.45" stroke="none"/>
<circle cx="424.90" cy="200.90" r="1.3" fill="#000"/>
<circle cx="451.00" cy="201.30" r="1.3" fill="#000"/>
<circle cx="477.00" cy="200.50" r="1.3" fill="#000"/>
<circle cx="503.00" cy="200.50" r="1.3" fill="#000"/>
<circle cx="529.20" cy="200.80" r="1.3" fill="#000"/>
<circle cx="555.20" cy="201.10" r="1.3" fill="#000"/>
<circle cx="581.30" cy="201.10" r="1.3" fill="#000"/>
<circle cx="607.40" cy="200.50" r="1.3" fill="#000"/>
<circle cx="633.40" cy="201.10" r="1.3" fill="#000"/>
<circle cx="659.60" cy="201.10" r="1.3" fill="#000"/>
<g fill="#000" stroke="#000" stroke-width="0.08">
<text x="105.11" y="10.10" font-size="11.2" text-anchor="start" >Projected central W+charm data</text>
<text x="451.31" y="10.10" font-size="11.2" text-anchor="start" >Projected forward W+charm data</text>
<text x="224.30" y="26.80" font-size="10.4" text-anchor="start" >Lumi error = 1.5 %</text>
<text x="579.10" y="26.80" font-size="10.4" text-anchor="start" >Lumi error = 1.5 %</text>
<text x="43.90" y="14.90" font-size="10.3" text-anchor="start" >×10</text>
<text x="60.70" y="10.80" font-size="6.6" text-anchor="start" >3</text>
<text x="41.00" y="139.39" font-size="9.8" text-anchor="end" >300</text>
<text x="41.00" y="120.62" font-size="9.8" text-anchor="end" >350</text>
<text x="41.00" y="101.86" font-size="9.8" text-anchor="end" >400</text>
<text x="41.00" y="83.09" font-size="9.8" text-anchor="end" >450</text>
<text x="41.00" y="64.33" font-size="9.8" text-anchor="end" >500</text>
<text x="41.00" y="45.56" font-size="9.8" text-anchor="end" >550</text>
<text x="41.00" y="26.80" font-size="9.8" text-anchor="end" >600</text>
<text x="41.00" y="149.15" font-size="9.8" text-anchor="end" >1.2</text>
<text x="41.00" y="163.30" font-size="9.8" text-anchor="end" >1.15</text>
<text x="41.00" y="177.45" font-size="9.8" text-anchor="end" >1.1</text>
<text x="41.00" y="191.60" font-size="9.8" text-anchor="end" >1.05</text>
<text x="41.00" y="205.75" font-size="9.8" text-anchor="end" >1</text>
<text x="41.00" y="219.90" font-size="9.8" text-anchor="end" >0.95</text>
<text x="41.00" y="234.05" font-size="9.8" text-anchor="end" >0.9</text>
<text x="41.00" y="248.20" font-size="9.8" text-anchor="end" >0.85</text>
<text x="41.00" y="262.35" font-size="9.8" text-anchor="end" >0.8</text>
<text x="44.50" y="276.00" font-size="9.6" text-anchor="middle" >0</text>
<text x="67.58" y="276.00" font-size="9.6" text-anchor="middle" >0.2</text>
<text x="90.66" y="276.00" font-size="9.6" text-anchor="middle" >0.4</text>
<text x="113.74" y="276.00" font-size="9.6" text-anchor="middle" >0.6</text>
<text x="136.82" y="276.00" font-size="9.6" text-anchor="middle" >0.8</text>
<text x="159.90" y="276.00" font-size="9.6" text-anchor="middle" >1</text>
<text x="182.98" y="276.00" font-size="9.6" text-anchor="middle" >1.2</text>
<text x="206.06" y="276.00" font-size="9.6" text-anchor="middle" >1.4</text>
<text x="229.14" y="276.00" font-size="9.6" text-anchor="middle" >1.6</text>
<text x="252.22" y="276.00" font-size="9.6" text-anchor="middle" >1.8</text>
<text x="275.30" y="276.00" font-size="9.6" text-anchor="middle" >2</text>
<text x="298.38" y="276.00" font-size="9.6" text-anchor="middle" >2.2</text>
<text x="321.46" y="276.00" font-size="9.6" text-anchor="middle" >2.4</text>
<text x="396.70" y="132.80" font-size="9.7" text-anchor="end" >5000</text>
<text x="396.70" y="114.00" font-size="9.7" text-anchor="end" >10000</text>
<text x="396.70" y="95.20" font-size="9.7" text-anchor="end" >15000</text>
<text x="396.70" y="76.40" font-size="9.7" text-anchor="end" >20000</text>
<text x="396.70" y="57.60" font-size="9.7" text-anchor="end" >25000</text>
<text x="396.70" y="38.80" font-size="9.7" text-anchor="end" >30000</text>
<text x="396.70" y="20.00" font-size="9.7" text-anchor="end" >35000</text>
<text x="396.70" y="264.24" font-size="9.7" text-anchor="end" >0.6</text>
<text x="396.70" y="249.58" font-size="9.7" text-anchor="end" >0.7</text>
<text x="396.70" y="234.92" font-size="9.7" text-anchor="end" >0.8</text>
<text x="396.70" y="220.26" font-size="9.7" text-anchor="end" >0.9</text>
<text x="396.70" y="205.60" font-size="9.7" text-anchor="end" >1</text>
<text x="396.70" y="190.94" font-size="9.7" text-anchor="end" >1.1</text>
<text x="396.70" y="176.28" font-size="9.7" text-anchor="end" >1.2</text>
<text x="396.70" y="161.62" font-size="9.7" text-anchor="end" >1.3</text>
<text x="396.70" y="146.96" font-size="9.7" text-anchor="end" >1.4</text>
<text x="411.30" y="276.00" font-size="9.6" text-anchor="middle" >2</text>
<text x="463.45" y="276.00" font-size="9.6" text-anchor="middle" >2.5</text>
<text x="515.60" y="276.00" font-size="9.6" text-anchor="middle" >3</text>
<text x="567.75" y="276.00" font-size="9.6" text-anchor="middle" >3.5</text>
<text x="619.90" y="276.00" font-size="9.6" text-anchor="middle" >4</text>
<text x="672.05" y="276.00" font-size="9.6" text-anchor="middle" >4.5</text>
<text transform="translate(10.2,21.2) rotate(-90)" font-size="11" text-anchor="end">dσ/dη [fb]</text>
<text transform="translate(12,145) rotate(-90)" font-size="11" text-anchor="end">Ratio</text>
<text transform="translate(360,21) rotate(-90)" font-size="11" text-anchor="end">dσ/dη [fb]</text>
<text transform="translate(362,145) rotate(-90)" font-size="11" text-anchor="end">Ratio</text>
<path transform="translate(321.50,283.60) scale(1.0)" d="M0.1,1.4 Q0.7,0.35 1.9,0.5 M1.9,0.5 V6.3 M1.9,1.7 Q3.0,0.15 4.6,0.3 Q5.9,0.5 5.9,2.0 V9.2" fill="none" stroke="#000" stroke-width="1.00"/>
<path transform="translate(676.30,283.70) scale(1.0)" d="M0.1,1.4 Q0.7,0.35 1.9,0.5 M1.9,0.5 V6.3 M1.9,1.7 Q3.0,0.15 4.6,0.3 Q5.9,0.5 5.9,2.0 V9.2" fill="none" stroke="#000" stroke-width="1.00"/>
</g>
<g fill="#000" stroke="#000" stroke-width="0.04">
<rect x="69.10" y="95.40" width="26.90" height="9.00" fill="#ffc4ae" stroke="none"/>
<line x1="69.10" y1="100.00" x2="96.00" y2="100.00" stroke="#846660" stroke-width="1"/>
<rect x="69.10" y="108.20" width="26.90" height="9.00" fill="#c4c0f2" stroke="none"/>
<line x1="69.10" y1="112.70" x2="96.00" y2="112.70" stroke="#706c98" stroke-width="1"/>
<rect x="69.10" y="121.30" width="26.90" height="8.90" fill="#000" stroke="none"/>
<text x="101.00" y="102.60" font-size="8.6" text-anchor="start" >PDF4LHC15</text>
<text x="101.00" y="115.50" font-size="8.6" text-anchor="start" >PDF4LHC15+ HL-LHC</text>
<path transform="translate(190.90,111.60) scale(0.7)" d="M0.1,1.4 Q0.7,0.35 1.9,0.5 M1.9,0.5 V6.3 M1.9,1.7 Q3.0,0.15 4.6,0.3 Q5.9,0.5 5.9,2.0 V9.2" fill="none" stroke="#000" stroke-width="1.00"/>
<text x="101.00" y="128.10" font-size="8.6" text-anchor="start" >HL-LHC pseudo-data, F = 0.1</text>
<rect x="424.90" y="95.40" width="26.90" height="9.40" fill="#ffc4ae" stroke="none"/>
<line x1="424.90" y1="100.20" x2="451.80" y2="100.20" stroke="#846660" stroke-width="1"/>
<rect x="424.90" y="108.30" width="26.90" height="9.20" fill="#c4c0f2" stroke="none"/>
<line x1="424.90" y1="112.90" x2="451.80" y2="112.90" stroke="#706c98" stroke-width="1"/>
<rect x="424.90" y="121.30" width="26.90" height="8.80" fill="#000" stroke="none"/>
<text x="456.50" y="102.60" font-size="8.6" text-anchor="start" >PDF4LHC15</text>
<text x="456.50" y="115.50" font-size="8.6" text-anchor="start" >PDF4LHC15+ HL-LHC</text>
<path transform="translate(546.40,111.60) scale(0.7)" d="M0.1,1.4 Q0.7,0.35 1.9,0.5 M1.9,0.5 V6.3 M1.9,1.7 Q3.0,0.15 4.6,0.3 Q5.9,0.5 5.9,2.0 V9.2" fill="none" stroke="#000" stroke-width="1.00"/>
<text x="456.50" y="128.10" font-size="8.6" text-anchor="start" >HL-LHC pseudo-data (shifted)</text>
</g>
</svg>
</div>
</body></html>
